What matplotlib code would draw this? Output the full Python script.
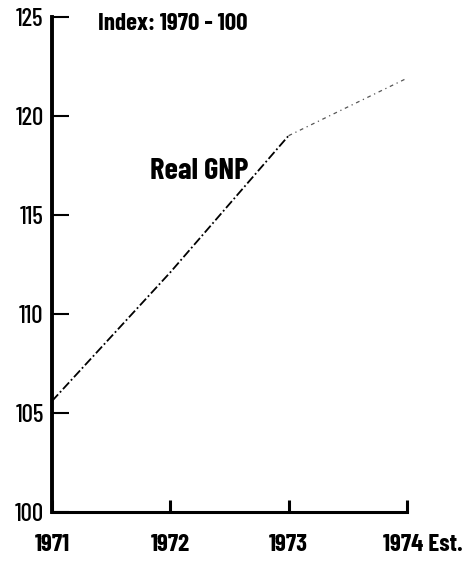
import matplotlib
matplotlib.use("Agg")
import matplotlib.pyplot as plt
import matplotlib.transforms as mtransforms

# Real GNP index, 1970 = 100
years = [1971, 1972, 1973, 1974]
gnp = [105.6, 112.1, 119.0, 121.9]
year_labels = ["1971", "1972", "1973", "1974 Est."]
y_ticks = [100, 105, 110, 115, 120, 125]

plt.rcParams['font.family'] = ['Barlow Condensed', 'DejaVu Sans']
plt.rcParams['font.stretch'] = 'condensed'

fig = plt.figure(figsize=(4.64, 5.62), dpi=100)
ax = fig.add_axes([0.112, 0.089, 0.765, 0.881])

# actual years dash-dot, the estimate fainter
ax.plot(years[:3], gnp[:3], color='black', lw=1.3,
        linestyle=(0, (5, 1.5, 1, 1.5)))
ax.plot(years[2:], gnp[2:], color='#555555', lw=0.9,
        linestyle=(0, (3, 3, 1, 3)))

ax.set_xlim(1971, 1974)
ax.set_ylim(100, 125)
ax.set_xticks(years)
ax.set_xticklabels(year_labels, fontsize=18, fontweight='bold')
ax.set_yticks(y_ticks)
ax.set_yticklabels([str(v) for v in y_ticks], fontsize=18, fontweight=500)

for s in ['top', 'right']:
    ax.spines[s].set_visible(False)
ax.spines['left'].set_linewidth(2.8)
ax.spines['bottom'].set_linewidth(2.2)
ax.spines['left'].set_capstyle('projecting')
ax.spines['bottom'].set_capstyle('projecting')

ax.tick_params(axis='y', direction='in', length=12, width=1.5, pad=6)
ax.tick_params(axis='x', direction='in', length=9, width=2.2, pad=16)

# shift "1974 Est." so the year sits under its tick
last = ax.get_xticklabels()[-1]
last.set_horizontalalignment('left')
last.set_transform(last.get_transform() +
                   mtransforms.ScaledTranslation(-24 / 100, 0, fig.dpi_scale_trans))

ax.text(0.13, 0.985, "Index: 1970 - 100", transform=ax.transAxes,
        fontsize=18, fontweight='bold', va='center', ha='left')
ax.text(1971.83, 117.2, "Real GNP", fontsize=22, fontweight='bold',
        va='center', ha='left')

fig.savefig("out.png", dpi=100)
